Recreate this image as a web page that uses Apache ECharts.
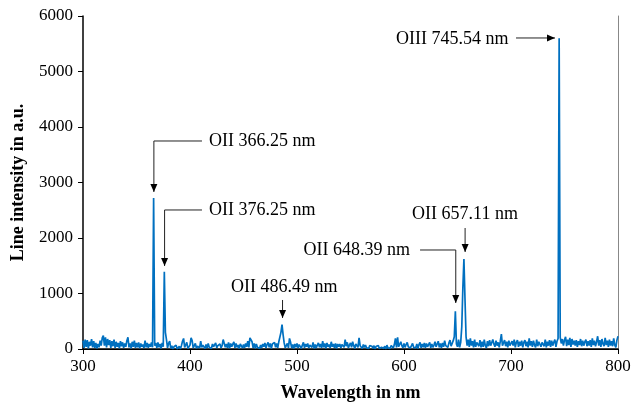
<!DOCTYPE html>
<html>
<head>
<meta charset="utf-8">
<title>spectrum</title>
<script src="https://cdn.jsdelivr.net/npm/echarts@6/dist/echarts.min.js"></script>
<style>
  html, body { margin: 0; padding: 0; background: #fff; }
  #chart { width: 641px; height: 402px; }
</style>
</head>
<body>
<div id="chart"></div>
<script>
// wavelength range of the spectrum, 1 nm per sample
var wlStart = 300;
var wlStep = 1;

// line intensity in a.u., 300 nm .. 800 nm
var intensity = [
  150, 20, 170, 40, 160, 10, 130, 60, 180, 30,
  140, 20, 110, 10, 90, 30, 150, 60, 200, 240,
  60, 210, 30, 180, 70, 160, 20, 140, 50, 170,
  20, 130, 40, 110, 10, 140, 50, 120, 20, 100,
  40, 150, 210, 30, 100, 10, 130, 40, 150, 20,
  110, 30, 120, 10, 100, 40, 80, 20, 150, 30,
  110, 20, 90, 40, 120, 30, 2720, 60, 110, 20,
  120, 30, 90, 10, 110, 40, 1390, 300, 170, 20,
  100, 140, 10, 60, 0, 40, 10, 70, 0, 30,
  50, 0, 60, 140, 190, 30, 60, 120, 10, 40,
  70, 200, 150, 20, 60, 100, 10, 50, 80, 20,
  140, 30, 70, 90, 10, 80, 20, 100, 30, 60,
  10, 90, 40, 70, 110, 20, 60, 30, 90, 20,
  60, 170, 100, 30, 90, 20, 120, 10, 100, 40,
  90, 130, 20, 100, 30, 70, 10, 90, 110, 20,
  80, 20, 100, 40, 140, 30, 200, 210, 130, 20,
  100, 10, 90, 30, 60, 10, 70, 20, 90, 40,
  110, 20, 80, 120, 30, 100, 10, 90, 60, 120,
  30, 100, 20, 130, 160, 300, 440, 260, 110, 20,
  60, 100, 20, 190, 120, 20, 80, 10, 90, 30,
  100, 20, 80, 110, 10, 70, 120, 20, 90, 40,
  100, 20, 70, 90, 30, 120, 10, 80, 20, 70,
  110, 30, 90, 20, 140, 30, 100, 10, 110, 40,
  80, 20, 130, 40, 90, 20, 100, 10, 90, 40,
  90, 20, 80, 110, 30, 170, 50, 120, 20, 70,
  110, 30, 130, 60, 10, 90, 120, 30, 200, 60,
  90, 10, 80, 30, 70, 20, 50, 10, 60, 30,
  50, 10, 60, 0, 50, 20, 60, 10, 40, 30,
  60, 10, 50, 0, 70, 20, 40, 10, 60, 30,
  20, 80, 190, 30, 210, 40, 20, 130, 60, 20,
  100, 30, 80, 120, 40, 70, 20, 60, 100, 30,
  60, 20, 90, 10, 80, 120, 20, 90, 30, 110,
  20, 100, 40, 80, 120, 20, 90, 30, 70, 130,
  40, 90, 140, 30, 100, 20, 110, 40, 150, 60,
  90, 30, 110, 160, 50, 100, 150, 220, 680, 90,
  40, 170, 30, 120, 400, 1100, 1620, 900, 220, 60,
  170, 40, 190, 60, 140, 30, 170, 40, 120, 150,
  50, 160, 30, 130, 40, 170, 60, 20, 140, 50,
  160, 60, 30, 170, 90, 40, 150, 60, 120, 30,
  140, 270, 60, 40, 160, 50, 130, 30, 150, 60,
  40, 140, 60, 170, 30, 120, 160, 40, 130, 60,
  150, 30, 120, 160, 50, 130, 30, 190, 60, 140,
  40, 150, 70, 30, 170, 50, 130, 160, 40, 120,
  140, 50, 170, 30, 130, 60, 160, 40, 150, 60,
  120, 170, 40, 140, 190, 5600, 210, 100, 180, 60,
  160, 220, 50, 170, 70, 200, 40, 180, 80, 150,
  60, 160, 40, 140, 70, 180, 50, 150, 60, 130,
  170, 50, 140, 60, 160, 40, 190, 70, 150, 50,
  130, 230, 60, 160, 40, 180, 90, 50, 200, 70,
  150, 40, 170, 60, 140, 50, 190, 70, 30, 160,
  230
];

// labelled lines
var lineNames = ['OII 366.25 nm', 'OII 376.25 nm', 'OII 486.49 nm', 'OII 648.39 nm', 'OII 657.11 nm', 'OIII 745.54 nm'];
var lineWl = [366.25, 376.25, 486.49, 648.39, 657.11, 745.54];

var xTicks = [300, 400, 500, 600, 700, 800];
var yTicks = [0, 1000, 2000, 3000, 4000, 5000, 6000];

var points = [];
for (var i = 0; i < intensity.length; i++) {
  points.push([wlStart + i * wlStep, intensity[i]]);
}

var serif = '"Liberation Serif", "Times New Roman", serif';
var chart = echarts.init(document.getElementById('chart'));

chart.setOption({
  animation: false,
  grid: { left: 83, right: 23, top: 16, bottom: 53, outerBoundsMode: 'none' },
  xAxis: [{
    type: 'value',
    min: xTicks[0], max: xTicks[xTicks.length - 1], interval: 100,
    name: 'Wavelength in nm', nameLocation: 'middle', nameGap: 35,
    nameTextStyle: { fontFamily: serif, fontSize: 18, fontWeight: 'bold', color: '#000' },
    axisLine: { lineStyle: { color: '#000', width: 1.5 } },
    axisTick: { show: true, length: 5, lineStyle: { color: '#000' } },
    axisLabel: { fontFamily: serif, fontSize: 17, color: '#000', margin: 9, formatter: '{value}' },
    splitLine: { show: false }
  }, {
    type: 'value', position: 'top',
    min: xTicks[0], max: xTicks[xTicks.length - 1],
    axisLine: { show: true, lineStyle: { color: '#000', width: 1 } },
    axisTick: { show: false }, axisLabel: { show: false }, splitLine: { show: false }
  }],
  yAxis: [{
    type: 'value',
    min: yTicks[0], max: yTicks[yTicks.length - 1], interval: 1000,
    name: 'Line intensity in a.u.', nameLocation: 'middle', nameGap: 56,
    nameTextStyle: { fontFamily: serif, fontSize: 18, fontWeight: 'bold', color: '#000' },
    axisLine: { show: true, lineStyle: { color: '#000', width: 1.5 } },
    axisTick: { show: true, length: 5, lineStyle: { color: '#000' } },
    axisLabel: { fontFamily: serif, fontSize: 17, color: '#000', margin: 10, formatter: function (v) { return String(v); } },
    splitLine: { show: false }
  }, {
    type: 'value', position: 'right',
    min: yTicks[0], max: yTicks[yTicks.length - 1],
    axisLine: { show: true, lineStyle: { color: '#888', width: 1 } },
    axisTick: { show: false }, axisLabel: { show: false }, splitLine: { show: false }
  }],
  series: [{
    type: 'line',
    data: points,
    symbol: 'none',
    lineStyle: { color: '#0070c0', width: 1.7 },
    z: 3
  }]
});

// annotation callouts, given in data coordinates: label anchor and leader path (last point = arrow tip)
var callouts = [
  { label: [417.8, 3748], align: 'left', path: [[411.2, 3748], [lineWl[0], 3748], [lineWl[0], 2829]] },
  { label: [417.8, 2505], align: 'left', path: [[411.2, 2505], [lineWl[1], 2505], [lineWl[1], 1495]] },
  { label: [488, 1117], align: 'center', path: [[lineWl[2], 883], [lineWl[2], 559]] },
  { label: [605.6, 1784], align: 'right', path: [[615, 1784], [lineWl[3], 1784], [lineWl[3], 829]] },
  { label: [657, 2432], align: 'center', path: [[lineWl[4], 2180], [lineWl[4], 1748]] },
  { label: [592.5, 5586], align: 'left', path: [[704.7, 5604], [741.1, 5604]] }
];

function px(p) { return chart.convertToPixel({ gridIndex: 0 }, p); }

var elements = [];
callouts.forEach(function (c, k) {
  var pts = c.path.map(px);
  elements.push({
    type: 'polyline', silent: true, z: 10,
    shape: { points: pts },
    style: { stroke: '#222', lineWidth: 1, fill: null }
  });
  var tip = pts[pts.length - 1];
  var prev = pts[pts.length - 2];
  var dx = tip[0] - prev[0], dy = tip[1] - prev[1];
  var len = Math.sqrt(dx * dx + dy * dy);
  var ux = dx / len, uy = dy / len;
  var L = 8, W = 3.5;
  var bx = tip[0] - ux * L, by = tip[1] - uy * L;
  elements.push({
    type: 'polygon', silent: true, z: 11,
    shape: { points: [tip, [bx - uy * W, by + ux * W], [bx + uy * W, by - ux * W]] },
    style: { fill: '#000' }
  });
  var lp = px(c.label);
  elements.push({
    type: 'text', silent: true, z: 12,
    x: lp[0], y: lp[1],
    style: {
      text: lineNames[k], fill: '#000',
      font: '18px ' + serif,
      textAlign: c.align, textVerticalAlign: 'middle'
    }
  });
});

chart.setOption({ graphic: { elements: elements } });
</script>
</body>
</html>
